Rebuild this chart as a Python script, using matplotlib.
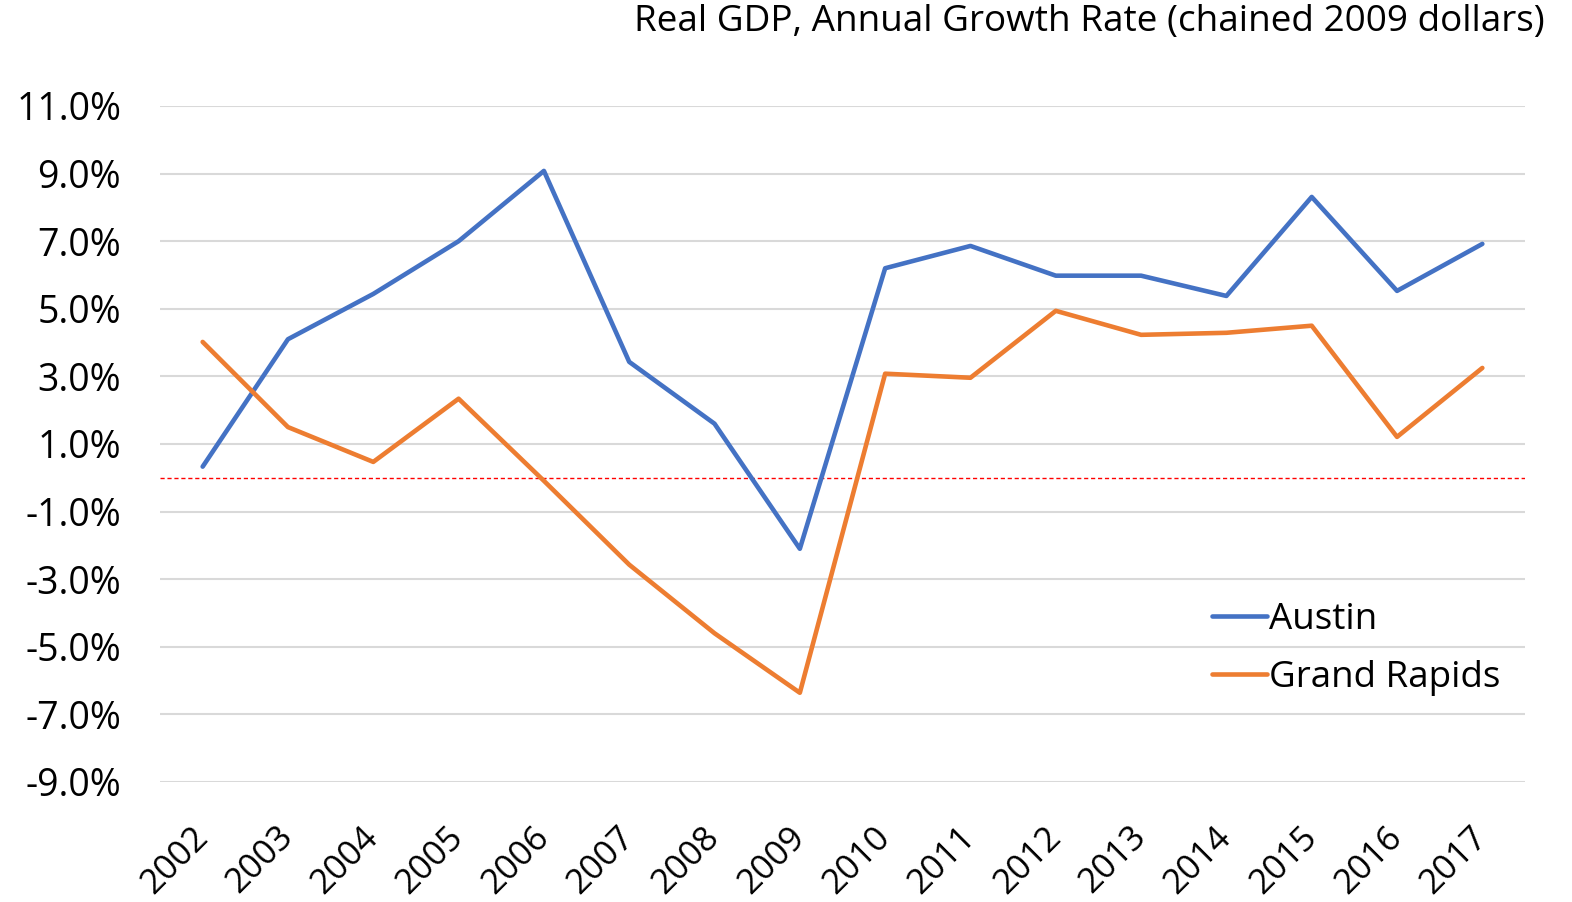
import matplotlib.pyplot as plt
import numpy as np
from matplotlib.ticker import FuncFormatter

plt.rcParams['font.family'] = ['Open Sans', 'DejaVu Sans']

years = [str(y) for y in range(2002, 2018)]
austin = [0.33, 4.10, 5.44, 7.00, 9.08, 3.43, 1.60, -2.10,
          6.20, 6.86, 5.98, 5.98, 5.38, 8.31, 5.53, 6.92]
grand_rapids = [4.02, 1.50, 0.47, 2.34, -0.09, -2.57, -4.60, -6.36,
                3.08, 2.96, 4.94, 4.23, 4.29, 4.50, 1.21, 3.25]
yticks = np.arange(-9, 12, 2)

fig = plt.figure(figsize=(15.72, 9.02), dpi=100)
ax = fig.add_axes([160 / 1572, 1 - 782 / 902, 1365 / 1572, 676 / 902])

x = np.arange(len(years))
ax.plot(x, austin, color='#4472C4', lw=3.3, label='Austin', solid_capstyle='round', zorder=3)
ax.plot(x, grand_rapids, color='#ED7D31', lw=3.3, label='Grand Rapids', solid_capstyle='round', zorder=3)
ax.axhline(0, color='red', lw=1, ls=(0, (3, 2)), zorder=2)

ax.set_xlim(-0.5, len(years) - 0.5)
ax.set_ylim(-9, 11)
ax.set_yticks(yticks)
ax.yaxis.set_major_formatter(FuncFormatter(lambda v, p: f'{v:.1f}%'))
ax.set_xticks(x)
ax.set_xticklabels(years, rotation=45, ha='right', va='center', rotation_mode='anchor')
ax.tick_params(axis='both', length=0)
ax.tick_params(axis='y', pad=28, labelsize=27)
ax.tick_params(axis='x', pad=36, labelsize=25)
ax.grid(axis='y', color='#D9D9D9', lw=1.5)
ax.set_axisbelow(True)
for s in ax.spines.values():
    s.set_visible(False)

fig.legend(loc='center left', bbox_to_anchor=(1212 / 1572, 1 - 649 / 902),
           bbox_transform=fig.transFigure, frameon=False, fontsize=26.5,
           borderpad=0, borderaxespad=0, handlelength=1.5,
           handletextpad=0.05, labelspacing=0.6)

fig.text(1545 / 1572, 1 - 22 / 902, 'Real GDP, Annual Growth Rate (chained 2009 dollars)',
         ha='right', va='center', fontsize=26.6)

fig.savefig('out.png', dpi=100)
